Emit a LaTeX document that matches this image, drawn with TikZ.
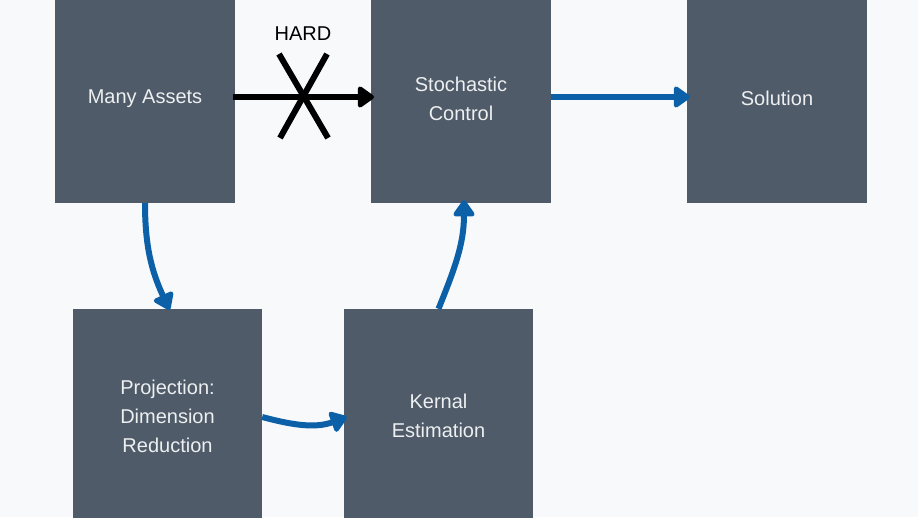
\documentclass[tikz,border=0pt]{standalone}
\usepackage{fontspec}
\setmainfont{Liberation Sans}
\usetikzlibrary{arrows.meta}
\definecolor{bgc}{HTML}{F8F9FA}
\definecolor{boxc}{HTML}{4F5B68}
\definecolor{txtc}{HTML}{EDEFF1}
\definecolor{arrblue}{HTML}{0C60A8}
\tikzset{
  box/.style={fill=boxc, draw=none, text=txtc, align=center, inner sep=0pt,
    font=\fontsize{20}{29}\selectfont},
  topbox/.style={box, minimum width=180pt, minimum height=209pt},
  lowbox/.style={box, minimum width=189pt, minimum height=214pt},
  tipstyle/.style={-{Triangle[round, length=18pt, width=24pt]}},
  bluearrow/.style={line width=6pt, draw=arrblue, tipstyle},
  blackarrow/.style={line width=6pt, draw=black, tipstyle},
  crossline/.style={line width=6pt, draw=black}
}
\begin{document}
\begin{tikzpicture}[x=1pt,y=1pt]
\fill[bgc] (0,0) rectangle (918,517);
\useasboundingbox (0,0) rectangle (918,517);
\node[topbox] (ma) at (145,418.5) {Many Assets};
\node[topbox] (sc) at (461,418.5) {Stochastic\\Control};
\node[topbox] (so) at (777,418.5) {Solution};
\coordinate (mae) at (233,420);
\coordinate (scw) at (374,420);
\coordinate (sce) at (551,420);
\coordinate (sow) at (690,420);
\node[lowbox] (pj) at (167.5,101) {Projection:\\Dimension\\Reduction};
\node[lowbox] (kn) at (438.5,101) {Kernal\\Estimation};
\node[font=\fontsize{20}{29}\selectfont, text=black] (hard) at (303,483) {HARD};
\draw[blackarrow] (mae) -- (scw);
\coordinate (x1a) at (279,463);
\coordinate (x1b) at (328,379);
\coordinate (x2a) at (327,463);
\coordinate (x2b) at (280,379);
\draw[crossline] (x1a) -- (x1b);
\draw[crossline] (x2a) -- (x2b);
\draw[bluearrow] (sce) -- (sow);
\draw[bluearrow] (ma.south) to[out=-90, in=115] ([xshift=2pt,yshift=-1pt]pj.north);
\draw[bluearrow] ([yshift=-1pt]pj.east) to[out=-15, in=200] ([xshift=3pt,yshift=-1pt]kn.west);
\draw[bluearrow] (kn.north) to[out=68, in=-90] ([xshift=3pt,yshift=3pt]sc.south);
\end{tikzpicture}
\end{document}
